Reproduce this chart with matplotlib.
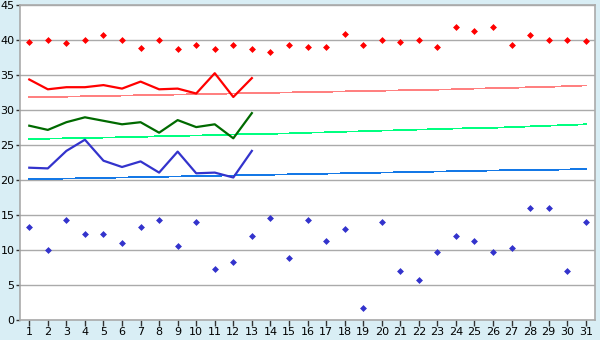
import numpy as np
import matplotlib
matplotlib.use("Agg")
import matplotlib.pyplot as plt

# Tage des Monats
tage = list(range(1, 32))

# Tageswerte (Punkte)
max_werte = [39.8, 40.0, 39.6, 40.0, 40.7, 40.1, 38.9, 40.0, 38.7, 39.3,
             38.7, 39.3, 38.7, 38.3, 39.3, 39.0, 39.0, 40.9, 39.4, 40.0,
             39.7, 40.0, 39.0, 41.9, 41.4, 41.9, 39.3, 40.7, 40.1, 40.0, 39.9]
min_werte = [13.4, 10.0, 14.4, 12.3, 12.4, 11.0, 13.4, 14.3, 10.6, 14.0,
             7.3, 8.3, 12.0, 14.6, 8.9, 14.4, 11.4, 13.0, 1.7, 14.1,
             7.1, 5.7, 9.7, 12.0, 11.4, 9.7, 10.3, 16.1, 16.0, 7.0, 14.0]

# Linien fuer die ersten 13 Tage
tage_linie = tage[:13]
rot_linie = [34.4, 33.0, 33.3, 33.3, 33.6, 33.1, 34.1, 33.0, 33.1, 32.4, 35.3, 31.9, 34.6]
gruen_linie = [27.8, 27.2, 28.3, 29.0, 28.5, 28.0, 28.3, 26.8, 28.6, 27.6, 28.0, 26.0, 29.6]
blau_linie = [21.8, 21.7, 24.2, 25.8, 22.8, 21.9, 22.7, 21.1, 24.1, 21.0, 21.1, 20.4, 24.2]

# Normalwerte (duenne Linien)
norm_rot = [31.85, 31.9, 31.95, 32.0, 32.05, 32.1, 32.15, 32.2, 32.25, 32.3,
            32.35, 32.4, 32.45, 32.5, 32.55, 32.6, 32.65, 32.7, 32.75, 32.8,
            32.85, 32.9, 32.95, 33.0, 33.1, 33.15, 33.2, 33.3, 33.35, 33.45, 33.55]
norm_gruen = [25.9, 25.95, 26.0, 26.05, 26.1, 26.15, 26.2, 26.3, 26.35, 26.4,
              26.45, 26.55, 26.6, 26.65, 26.7, 26.8, 26.85, 26.95, 27.0, 27.1,
              27.15, 27.25, 27.3, 27.4, 27.45, 27.5, 27.6, 27.7, 27.8, 27.9, 28.0]
norm_blau = [20.15, 20.2, 20.25, 20.3, 20.35, 20.4, 20.45, 20.5, 20.55, 20.6,
             20.65, 20.7, 20.75, 20.8, 20.85, 20.9, 20.95, 21.0, 21.05, 21.1,
             21.15, 21.2, 21.25, 21.3, 21.35, 21.4, 21.45, 21.5, 21.5, 21.55, 21.6]

plt.rcParams['font.family'] = ['DejaVu Sans']

fig = plt.figure(figsize=(6, 3.4), dpi=100, facecolor='#D9EEF5')
ax = fig.add_axes([20/600, 1 - 320.3/340, 575/600, 315/340])
ax.set_facecolor('white')

ax.plot(tage, norm_rot, color='#FF8080', lw=0.55, antialiased=False, zorder=2)
ax.plot(tage, norm_gruen, color='#00FF80', lw=0.55, antialiased=False, zorder=2)
ax.plot(tage, norm_blau, color='#1478E6', lw=0.55, antialiased=False, zorder=2)

ax.plot(tage_linie, rot_linie, color='#FF0000', lw=1.6, zorder=3)
ax.plot(tage_linie, gruen_linie, color='#006A00', lw=1.6, zorder=3)
ax.plot(tage_linie, blau_linie, color='#3333CC', lw=1.6, zorder=3)

ax.plot(tage, max_werte, ls='none', marker='D', ms=3.0, mew=0.5, color='#FF0000', zorder=4)
ax.plot(tage, min_werte, ls='none', marker='D', ms=3.0, mew=0.5, color='#3333CC', zorder=4)

ax.set_xlim(0.5, 31.5)
ax.set_ylim(0, 45)
ax.set_xticks(tage)
ax.set_yticks(range(0, 46, 5))
ax.grid(axis='y', color='#AAAAAA', lw=1.0)
ax.set_axisbelow(True)
for s in ax.spines.values():
    s.set_color('#AAAAAA')
    s.set_linewidth(1.2)
ax.tick_params(axis='x', length=4, width=1, color='#333333', labelsize=8, pad=1)
ax.tick_params(axis='y', length=3, width=1, color='#333333', labelsize=8, pad=1)

fig.savefig('out.png', dpi=100, facecolor=fig.get_facecolor())
